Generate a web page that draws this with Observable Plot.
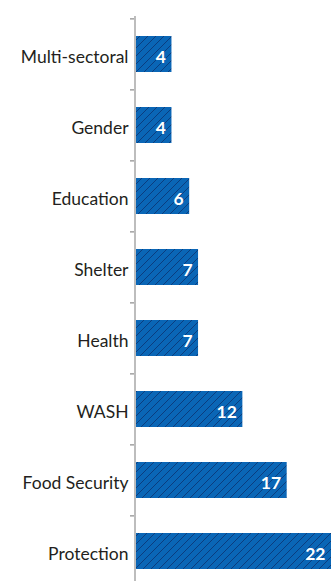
<!DOCTYPE html>
<html>
<head>
<meta charset="utf-8">
<script src="https://cdn.jsdelivr.net/npm/d3@7"></script>
<script src="https://cdn.jsdelivr.net/npm/@observablehq/plot@0.6"></script>
<style>
  html, body { margin: 0; padding: 0; background: #fff; }
  #chart svg { display: block; }
</style>
</head>
<body>
<div id="chart"></div>
<script>
const categories = ["Multi-sectoral", "Gender", "Education", "Shelter", "Health", "WASH", "Food Security", "Protection"];
const values = [4, 4, 6, 7, 7, 12, 17, 22];

const data = categories.map((c, i) => ({category: c, value: values[i]}));
const bandStep = (587 - 17) / categories.length;

const plot = Plot.plot({
  width: 331,
  height: 581,
  marginLeft: 136,
  marginRight: 0,
  marginTop: 16,
  marginBottom: 0,
  style: {fontFamily: "Lato, sans-serif", background: "#fff"},
  x: {domain: [0, 22], range: [136, 331], axis: null},
  y: {domain: categories, range: [17, 587], paddingInner: 0.5, paddingOuter: 0.25, label: null, axis: null},
  marks: [
    Plot.barX(data, {y: "category", x: "value", fill: "url(#hatch)"}),
    Plot.text(data, {y: "category", x: "value", text: d => String(d.value), textAnchor: "end", dx: -6, dy: 2.5, fill: "white", fontWeight: "bold", fontSize: 17.5}),
    Plot.text(data, {y: "category", x: 0, text: "category", textAnchor: "end", dx: -8, dy: 2.5, fill: "#231f20", fontSize: 17.5}),
    Plot.ruleY(data, {y: "category", x1: () => -0.68, x2: () => 0, dy: -bandStep / 2, stroke: "#8a8a8a", strokeWidth: 1.2}),
    Plot.ruleX([0], {dx: -1.5, stroke: "#bdbdbd", strokeWidth: 2})
  ]
});

const defs = document.createElementNS("http://www.w3.org/2000/svg", "defs");
defs.innerHTML = `
  <pattern id="hatch" patternUnits="userSpaceOnUse" width="8" height="8">
    <rect width="8" height="8" fill="#0a66b6"></rect>
    <path d="M-2,2 l4,-4 M0,8 l8,-8 M6,10 l4,-4" stroke="#0b3d7e" stroke-width="1"></path>
  </pattern>`;
plot.insertBefore(defs, plot.firstChild);
document.getElementById("chart").appendChild(plot);
</script>
</body>
</html>
